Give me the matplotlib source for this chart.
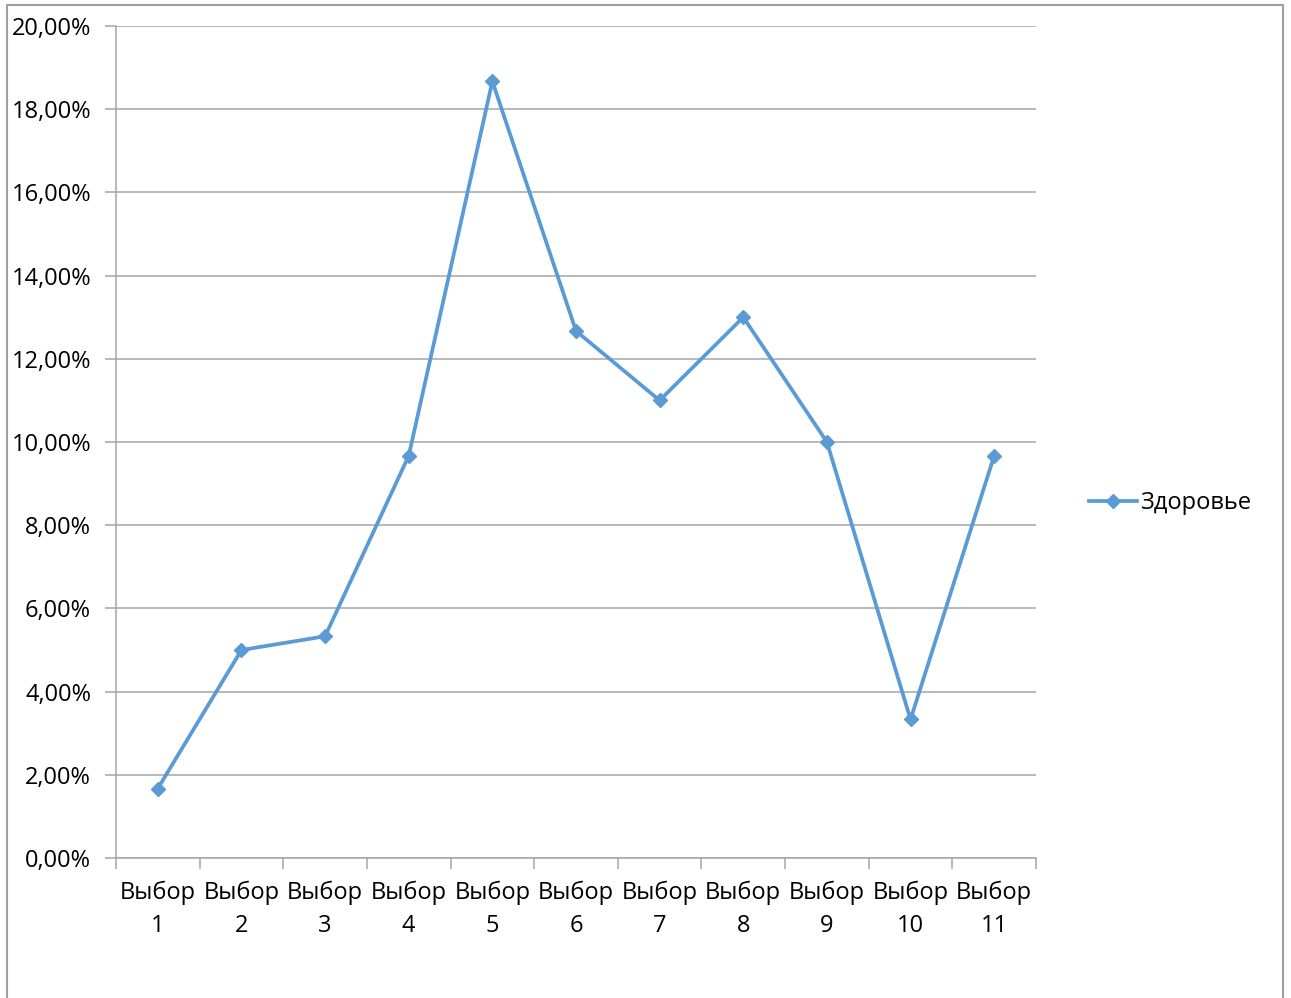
import matplotlib.pyplot as plt
from matplotlib.patches import Rectangle
from matplotlib.ticker import FuncFormatter, FixedLocator

categories = ["Выбор\n1", "Выбор\n2", "Выбор\n3", "Выбор\n4", "Выбор\n5", "Выбор\n6",
              "Выбор\n7", "Выбор\n8", "Выбор\n9", "Выбор\n10", "Выбор\n11"]
health = [1.67, 5.00, 5.33, 9.67, 18.67, 12.67, 11.00, 13.00, 10.00, 3.33, 9.67]
series_name = "Здоровье"

plt.rcParams["font.family"] = ["Open Sans", "DejaVu Sans"]

W, H = 1291, 998
fig = plt.figure(figsize=(W / 100, H / 100), dpi=100)
ax = fig.add_axes([116 / W, 1 - 858 / H, (1036 - 116) / W, (858 - 26) / H])

x = list(range(len(health)))
line, = ax.plot(x, health, color="#5B9BD5", lw=2.7, marker="D", ms=7.5,
                markeredgecolor="#5B9BD5", markerfacecolor="#5B9BD5", zorder=3)

ax.set_xlim(-0.5, len(health) - 0.5)
ax.set_ylim(0, 20)
ax.set_yticks(range(0, 21, 2))
ax.yaxis.set_major_formatter(FuncFormatter(lambda v, p: f"{v:.2f}%".replace(".", ",")))
ax.yaxis.grid(True, color="#a6a6a6", lw=1.1)
ax.set_axisbelow(True)

ax.set_xticks(x)
ax.set_xticklabels(categories, fontsize=17, linespacing=1.5)
ax.xaxis.set_minor_locator(FixedLocator([i - 0.5 for i in range(len(health) + 1)]))
ax.tick_params(axis="x", which="major", length=0, pad=16)
ax.tick_params(axis="x", which="minor", length=8, color="#a6a6a6", width=1.1)
ax.tick_params(axis="y", length=8, color="#a6a6a6", width=1.1, labelsize=17, pad=10)

for s in ["top", "right"]:
    ax.spines[s].set_visible(False)
for s in ["left", "bottom"]:
    ax.spines[s].set_color("#a6a6a6")
    ax.spines[s].set_linewidth(1.1)

fig.legend([line], [series_name], loc="center left", bbox_to_anchor=(1080 / W, 1 - 503 / H),
           frameon=False, fontsize=17, handlelength=2.0, handletextpad=0.15, borderaxespad=0)

# outer chart frame
fig.patches.append(Rectangle((7 / W, -0.05), (1283 - 7) / W, 1.05 - 5 / H,
                             transform=fig.transFigure, fill=False,
                             edgecolor="#a0a0a0", lw=1.5))

fig.savefig("out.png", dpi=100)
